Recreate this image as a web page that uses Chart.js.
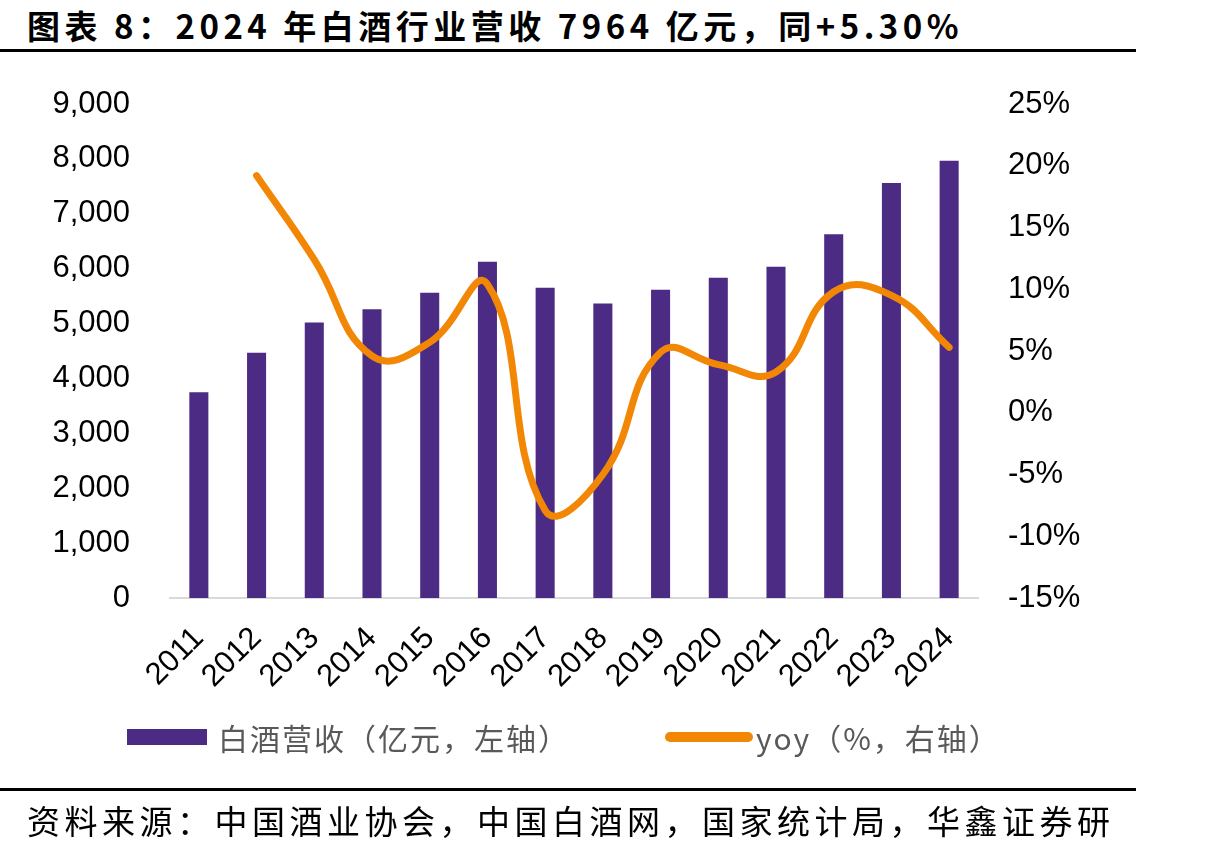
<!DOCTYPE html>
<html>
<head>
<meta charset="utf-8">
<script src="https://cdn.jsdelivr.net/npm/chart.js@4.4.1/dist/chart.umd.min.js"></script>
<style>
  body { margin: 0; width: 1205px; height: 850px; position: relative; background: #fff; overflow: hidden; font-family: "Noto Sans CJK SC", sans-serif; }
  #c { position: absolute; left: 0; top: 0; }
  .title { position: absolute; left: 27px; top: 1px; font-size: 33px; font-weight: bold; color: #000; letter-spacing: 4.5px; white-space: nowrap; }
  .rule { position: absolute; left: 0; width: 1136px; height: 3px; background: #000; }
  .legend { position: absolute; top: 716px; height: 42px; display: flex; align-items: center; font-size: 30px; color: #595959; letter-spacing: 2px; white-space: nowrap; }
  .swatch-bar { width: 80px; height: 16px; background: #4C2B84; margin-right: 11px; }
  .swatch-line { width: 88px; height: 10px; border-radius: 5px; background: #F28705; margin-right: 3px; }
  .source { position: absolute; left: 27px; top: 796px; font-size: 33px; color: #000; letter-spacing: 4.5px; white-space: nowrap; }
</style>
</head>
<body>
<div class="title">图表 8：2024 年白酒行业营收 7964 亿元，同+5.30%</div>
<div class="rule" style="top:49px"></div>
<canvas id="c" width="1205" height="850"></canvas>
<div class="legend" style="left:127px"><div class="swatch-bar"></div>白酒营收（亿元，左轴）</div>
<div class="legend" style="left:665px"><div class="swatch-line"></div>yoy（%，右轴）</div>
<div class="rule" style="top:788px"></div>
<div class="source">资料来源：中国酒业协会，中国白酒网，国家统计局，华鑫证券研</div>
<script>
// 数据
const years = ["2011", "2012", "2013", "2014", "2015", "2016", "2017", "2018", "2019", "2020", "2021", "2022", "2023", "2024"];
const revenue = [3747, 4466, 5018, 5259, 5559, 6126, 5654, 5364, 5618, 5836, 6033, 6627, 7563, 7964]; // 亿元
const yoy = [null, 19.2, 12.4, 4.6, 5.7, 10.4, -7.9, -5.0, 4.9, 3.9, 3.3, 9.8, 9.5, 5.3]; // %
const leftTicks = [0, 1000, 2000, 3000, 4000, 5000, 6000, 7000, 8000, 9000];
const rightTicks = [-15, -10, -5, 0, 5, 10, 15, 20, 25];

const tickFont = { family: "'Liberation Sans', Arial", size: 31 };

new Chart(document.getElementById("c").getContext("2d"), {
  data: {
    labels: years,
    datasets: [
      {
        type: "line",
        label: "yoy（%，右轴）",
        data: yoy,
        yAxisID: "y1",
        borderColor: "#F28705",
        borderWidth: 7,
        borderCapStyle: "round",
        tension: 0.45,
        pointRadius: 0,
        fill: false,
        order: 0,
      },
      {
        type: "bar",
        label: "白酒营收（亿元，左轴）",
        data: revenue,
        yAxisID: "y",
        backgroundColor: "#4C2B84",
        categoryPercentage: 1,
        barPercentage: 0.33,
        order: 1,
      },
    ],
  },
  options: {
    responsive: false,
    animation: false,
    layout: { padding: { top: 104, bottom: 140, left: 0, right: 0 } },
    plugins: { legend: { display: false }, tooltip: { enabled: false } },
    scales: {
      x: {
        offset: true,
        grid: { display: false },
        border: { display: true, color: "#D9D9D9", width: 2 },
        ticks: { font: tickFont, color: "#000", minRotation: 45, maxRotation: 45, padding: 14 },
        afterFit: (s) => { s.height = 112; },
      },
      y: {
        position: "left",
        min: 0,
        max: 9000,
        grid: { display: false, drawTicks: false },
        border: { display: false },
        ticks: { font: tickFont, color: "#000", padding: 40 },
        afterBuildTicks: (s) => { s.ticks = leftTicks.map((v) => ({ value: v })); },
        afterFit: (s) => { s.width = 170; },
      },
      y1: {
        position: "right",
        min: -15,
        max: 25,
        grid: { display: false, drawTicks: false },
        border: { display: false },
        ticks: { font: tickFont, color: "#000", padding: 30, callback: (v) => v + "%" },
        afterBuildTicks: (s) => { s.ticks = rightTicks.map((v) => ({ value: v })); },
        afterFit: (s) => { s.width = 227; },
      },
    },
  },
});
</script>
</body>
</html>
